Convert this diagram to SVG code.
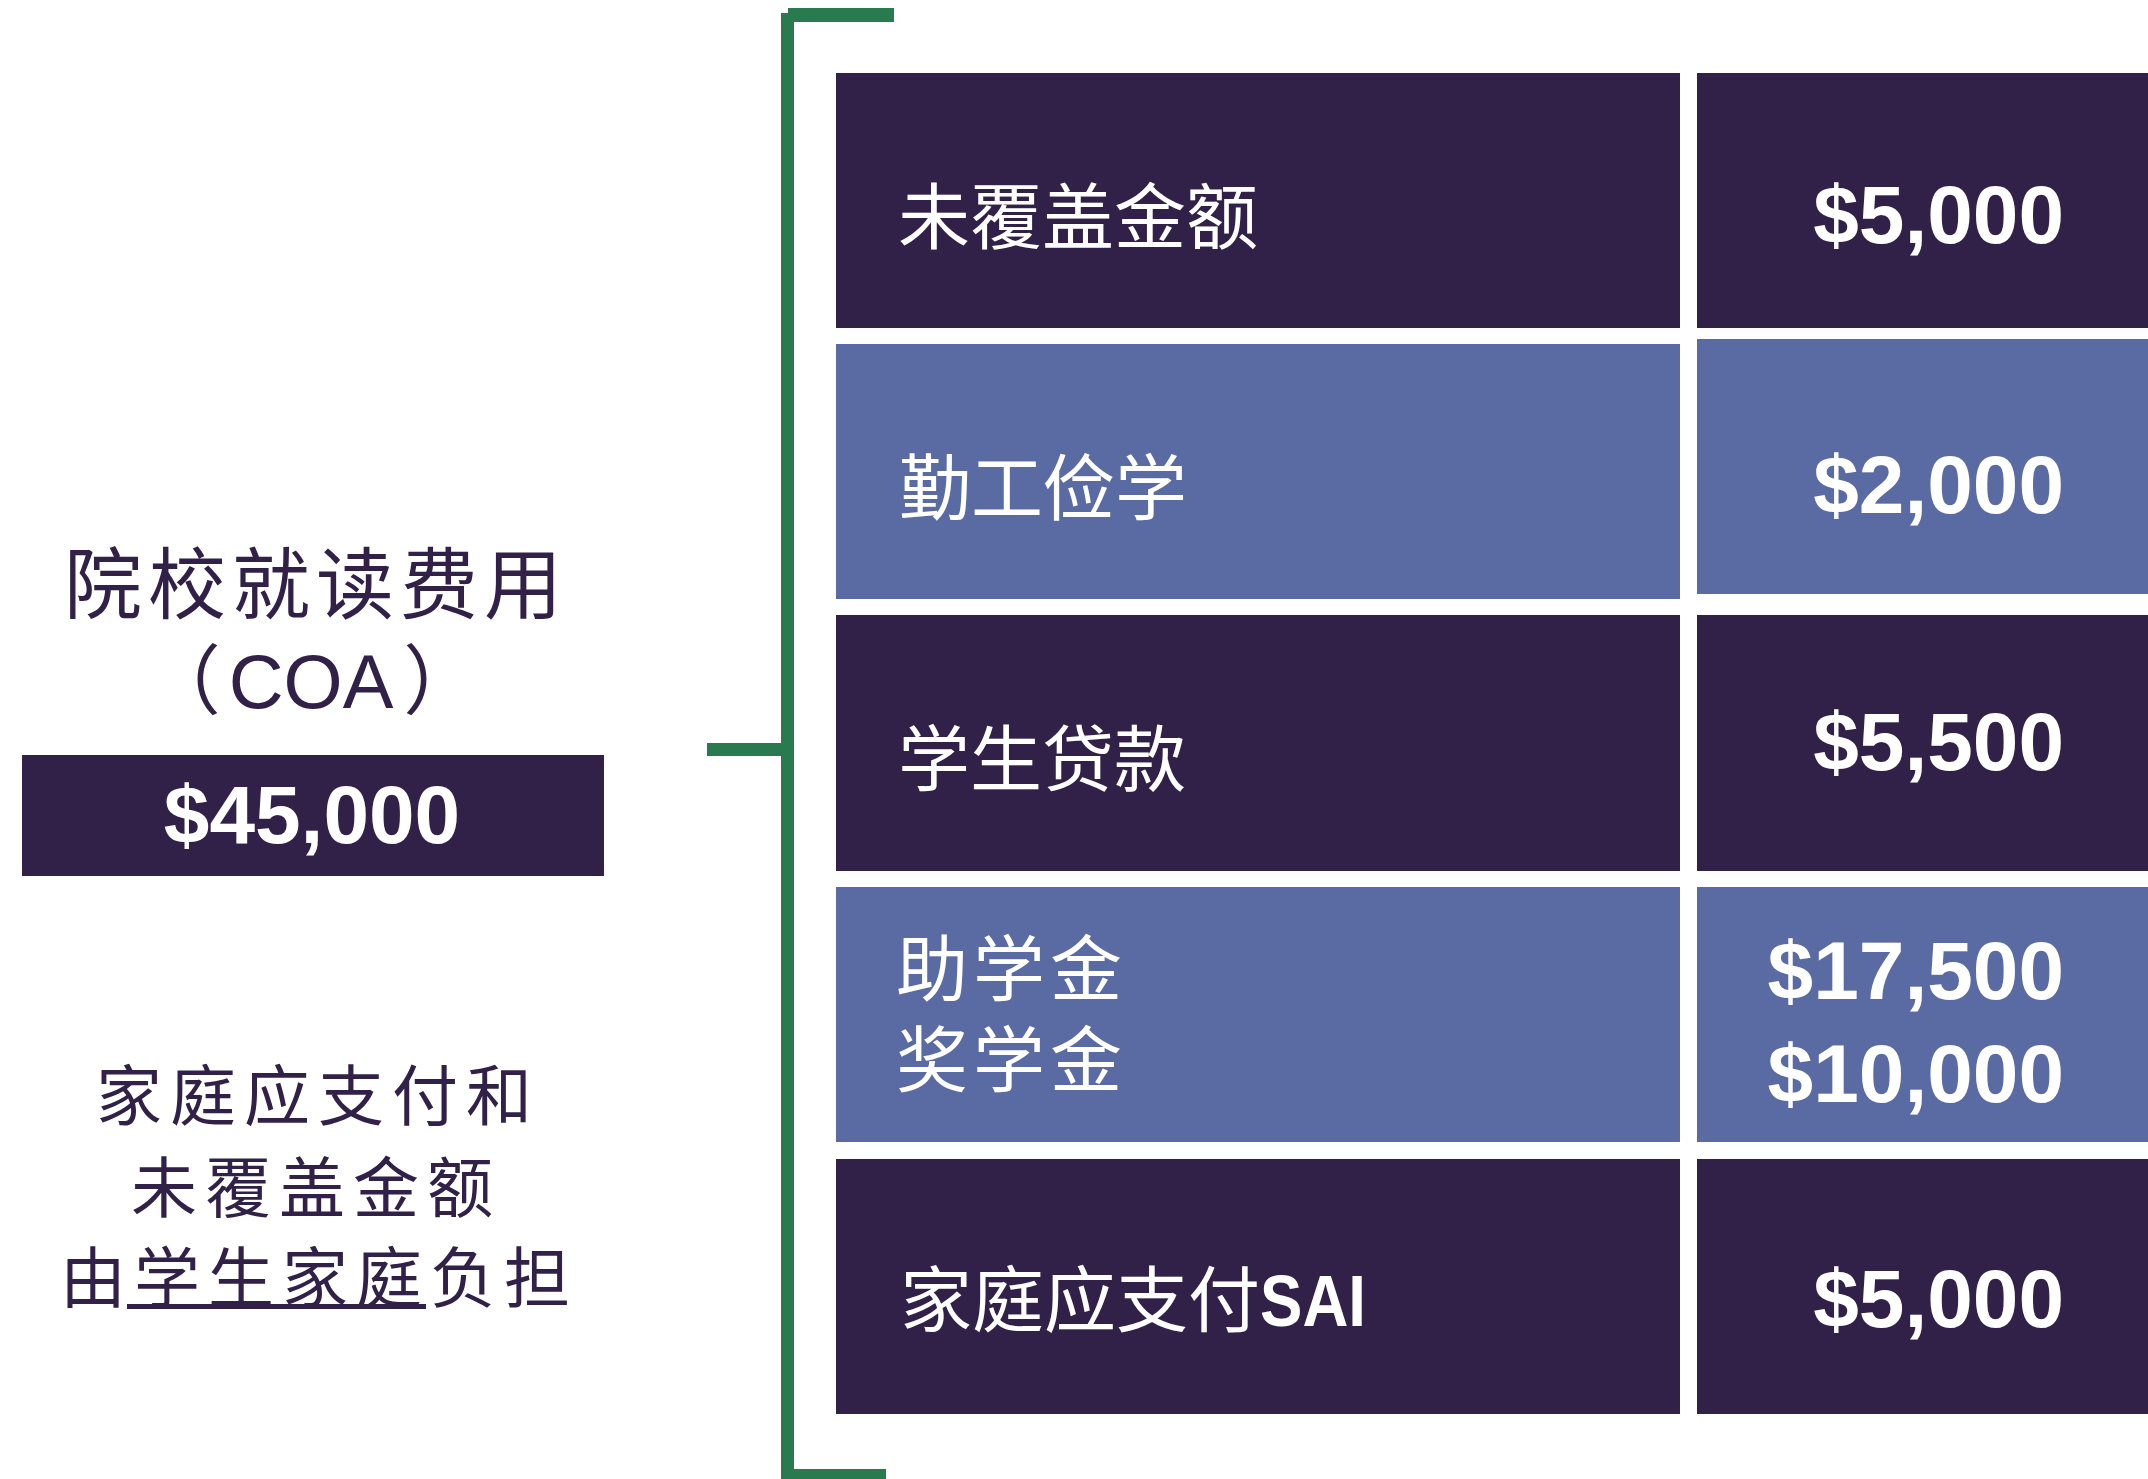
<svg xmlns="http://www.w3.org/2000/svg" width="2148" height="1479" viewBox="0 0 2148 1479">
<style>
.dark{fill:#312047}
.blue{fill:#5A6BA3}
.green{fill:#2A7A50}
.lbl{font-family:"Noto Sans CJK SC",sans-serif;font-size:72px;fill:#FFFFFF}
.amt{font-family:"Liberation Sans",Arial,sans-serif;font-weight:bold;font-size:82px;fill:#FFFFFF;text-anchor:end}
.left{font-family:"Noto Sans CJK SC",sans-serif;fill:#312047}
</style>
<rect x="0" y="0" width="2148" height="1479" fill="#FFFFFF"/>
<g id="connectors">
<rect class="green" x="781" y="13" width="13" height="1466"/>
<rect class="green" x="788" y="8" width="106" height="14"/>
<rect class="green" x="781" y="1469" width="105" height="10"/>
<rect class="green" x="707" y="743" width="80" height="13"/>
</g>
<g id="coa-title">
<text class="left" x="64" y="613" font-size="78" letter-spacing="6">院校就读费用</text>
<text x="312" y="708" font-family="Liberation Sans, Noto Sans CJK SC, sans-serif" font-size="76" fill="#312047" text-anchor="middle">（<tspan dx="8">COA</tspan><tspan dx="10">）</tspan></text>
</g>
<g id="coa-amount">
<rect class="dark" x="22" y="755" width="582" height="121"/>
<text x="312" y="843" font-family="Liberation Sans, Arial, sans-serif" font-weight="bold" font-size="82" fill="#FFFFFF" text-anchor="middle">$45,000</text>
</g>
<g id="note">
<text class="left" x="96" y="1120" font-size="66" letter-spacing="8">家庭应支付和</text>
<text class="left" x="131" y="1212" font-size="66" letter-spacing="8">未覆盖金额</text>
<text class="left" x="60" y="1302" font-size="66" letter-spacing="8">由学生家庭负担</text>
<rect class="dark" x="127" y="1304" width="299" height="5"/>
</g>
<g id="row1-label"><rect class="dark" x="836" y="73" width="844" height="255"/><text class="lbl" x="898" y="243">未覆盖金额</text></g>
<g id="row1-amount"><rect class="dark" x="1697" y="73" width="451" height="255"/><text class="amt" x="2064" y="243">$5,000</text></g>
<g id="row2-label"><rect class="blue" x="836" y="344" width="844" height="255"/><text class="lbl" x="899" y="514">勤工俭学</text></g>
<g id="row2-amount"><rect class="blue" x="1697" y="339" width="451" height="255"/><text class="amt" x="2064" y="513">$2,000</text></g>
<g id="row3-label"><rect class="dark" x="836" y="615" width="844" height="256"/><text class="lbl" x="898" y="785">学生贷款</text></g>
<g id="row3-amount"><rect class="dark" x="1697" y="615" width="451" height="256"/><text class="amt" x="2064" y="770">$5,500</text></g>
<g id="row4-label"><rect class="blue" x="836" y="887" width="844" height="255"/><text class="lbl" x="896" y="995" font-size="68" letter-spacing="5">助学金</text><text class="lbl" x="896" y="1086" font-size="68" letter-spacing="5">奖学金</text></g>
<g id="row4-amount"><rect class="blue" x="1697" y="887" width="451" height="255"/><text class="amt" x="2064" y="999">$17,500</text><text class="amt" x="2064" y="1102">$10,000</text></g>
<g id="row5-label"><rect class="dark" x="836" y="1159" width="844" height="255"/><text class="lbl" x="900" y="1326">家庭应支付<tspan font-family="Liberation Sans, Arial, sans-serif" font-weight="bold" font-size="72" textLength="106" lengthAdjust="spacingAndGlyphs">SAI</tspan></text></g>
<g id="row5-amount"><rect class="dark" x="1697" y="1159" width="451" height="255"/><text class="amt" x="2064" y="1327">$5,000</text></g>
</svg>
